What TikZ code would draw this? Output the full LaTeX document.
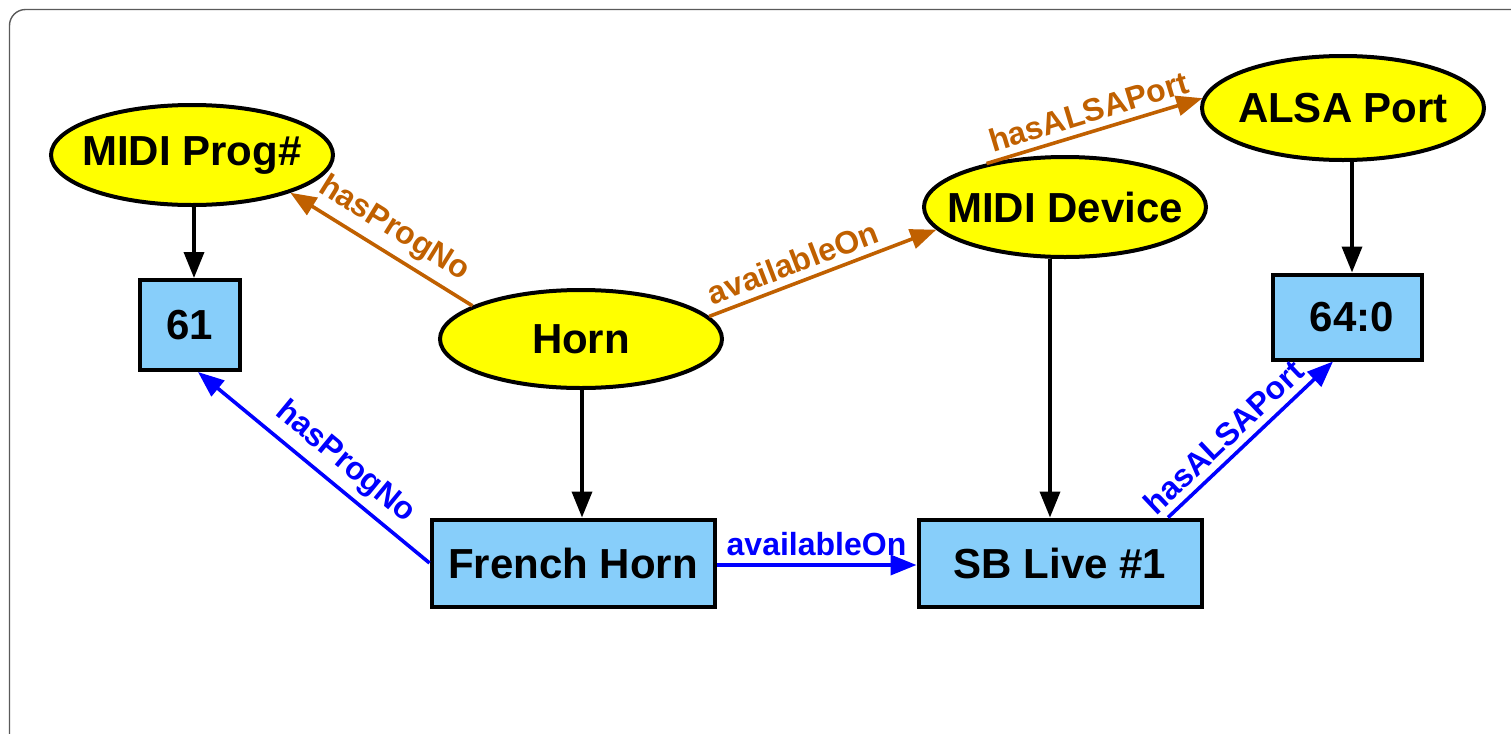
\documentclass[tikz,border=0pt]{standalone}
\usepackage{fontspec}
\setmainfont{Liberation Sans}
\usetikzlibrary{arrows.meta,shapes.geometric}
\definecolor{nodeyellow}{RGB}{255,255,0}
\definecolor{boxblue}{RGB}{135,206,250}
\definecolor{relorange}{RGB}{192,96,0}
\definecolor{relblue}{RGB}{0,0,255}
\definecolor{framegray}{RGB}{90,90,90}
\newcommand{\ctext}[1]{\makebox[0pt]{#1}}
\tikzset{
  concept/.style={ellipse, draw=black, line width=2pt, fill=nodeyellow,
    minimum width=141pt, minimum height=50pt, inner sep=0pt,
    font=\bfseries\fontsize{21}{25}\selectfont},
  inst/.style={rectangle, draw=black, line width=2pt, fill=boxblue,
    inner sep=0pt, font=\bfseries\fontsize{21}{25}\selectfont},
  typeof/.style={draw=black, line width=1.8pt,
    -{Triangle[length=13pt,width=10pt]}},
  schemarel/.style={draw=relorange, line width=1.8pt,
    -{Triangle[length=13pt,width=10pt]}},
  datarel/.style={draw=relblue, line width=1.8pt,
    -{Triangle[length=13pt,width=10pt]}},
  rellabel/.style={sloped, above, inner sep=3.5pt,
    font=\bfseries\fontsize{16}{19}\selectfont},
}
\begin{document}
\begin{tikzpicture}[x=0.5pt, y=-0.5pt]
\clip (0,0) rectangle (1511,734);
% outer frame, open to the right and bottom
\draw[framegray, line width=0.7pt, rounded corners=8pt]
  (1540,9.5) -- (9.5,9.5) -- (9.5,760);

% class nodes
\node[concept] (prog)   at (192,155)  {\ctext{MIDI Prog\#}};
\node[concept, minimum height=49pt] (horn)   at (581,339)  {\ctext{Horn}};
\node[concept] (device) at (1065,207) {\ctext{MIDI Device}};
\node[concept, minimum height=52pt] (alsa)   at (1343,108) {\ctext{ALSA Port}};

% instance nodes
\node[inst, minimum width=50pt, minimum height=45pt]     (n61)    at (190,325)  {61};
\node[inst, minimum width=74.5pt, minimum height=42.5pt] (n640)   at (1347,317) {\hspace*{5pt}64:0};
\node[inst, minimum width=141.5pt, minimum height=43.5pt] (french) at (573,563) {French Horn};
\node[inst, minimum width=141.5pt, minimum height=43.5pt] (sblive) at (1060,563) {SB Live \#1};

% class-to-instance links
\draw[typeof] ([xshift=1pt]prog.south) -- ([xshift=2pt]n61.north);
\draw[typeof] ([xshift=0.5pt]horn.south) -- ([xshift=4.5pt]french.north);
\draw[typeof] ([xshift=-7.5pt]device.south) -- ([xshift=-5pt]sblive.north);
\draw[typeof] ([xshift=4.5pt]alsa.south) -- ([xshift=2.5pt]n640.north);

% schema relations
\draw[schemarel] (horn.163) -- node[rellabel, text=relorange] {hasProgNo} (prog.339);
\draw[schemarel] (horn.10) -- node[rellabel, text=relorange, pos=0.4] {availableOn} (device.190);
\draw[schemarel] (device.151) -- node[rellabel, text=relorange] {hasALSAPort} (alsa.176);

% instance relations
\draw[datarel] (french.west) -- node[rellabel, text=relblue, pos=0.43] {hasProgNo} ([xshift=4pt]n61.south);
\draw[datarel] ([yshift=-1pt]french.east) -- node[rellabel, text=relblue] {availableOn} ([yshift=-1pt]sblive.west);
\draw[datarel] ([xshift=54pt]sblive.north) -- node[rellabel, text=relblue, pos=0.42] {hasALSAPort} ([xshift=-7pt]n640.south);
\end{tikzpicture}
\end{document}
